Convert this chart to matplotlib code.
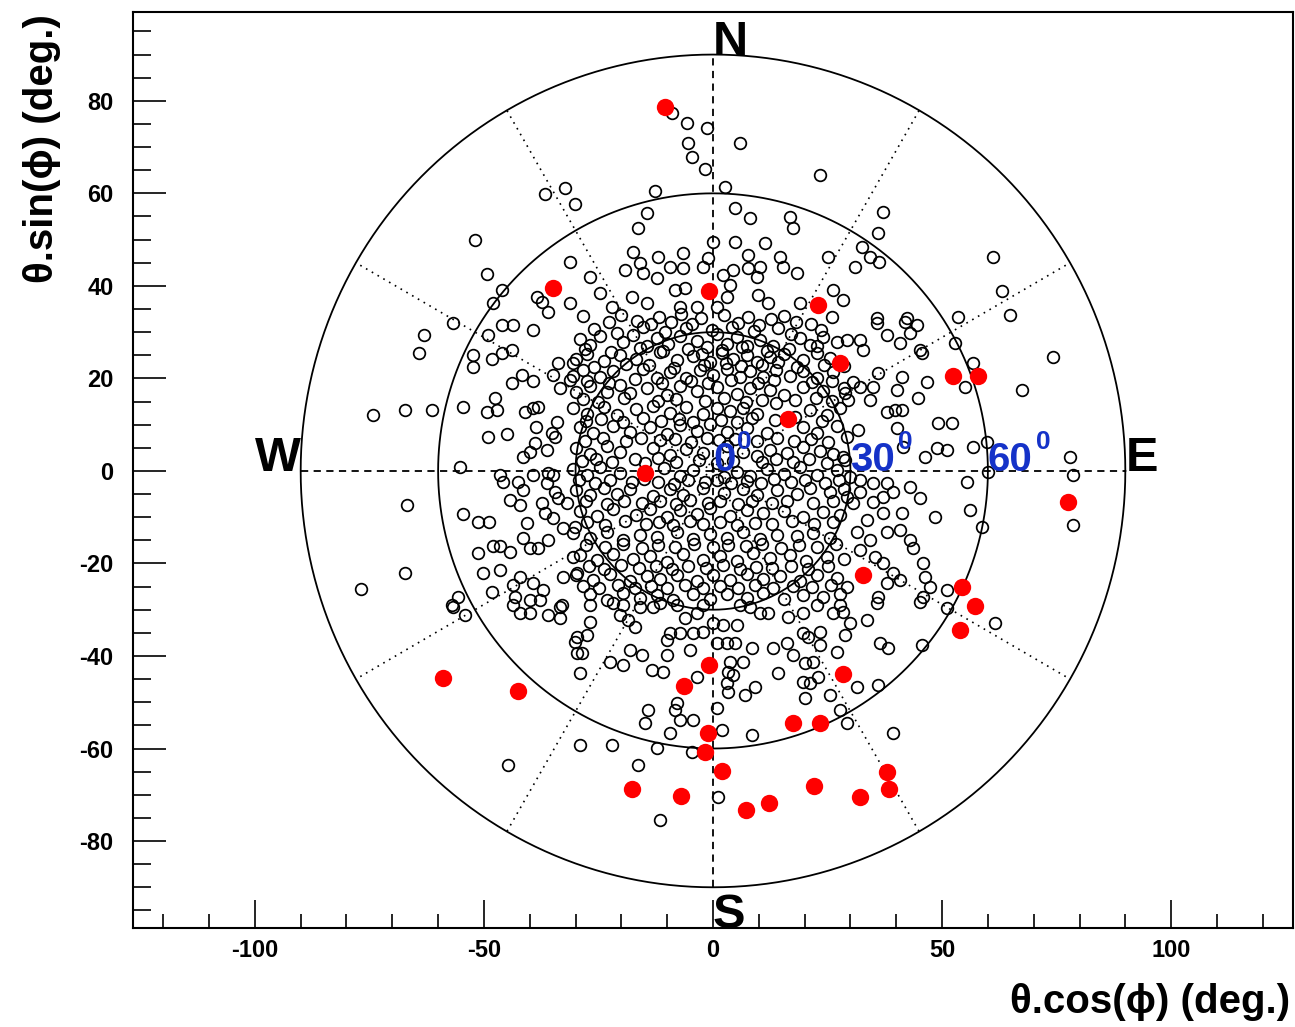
import matplotlib
matplotlib.use("Agg")
import matplotlib.pyplot as plt
import numpy as np

plt.rcParams['font.family'] = ['Liberation Sans', 'DejaVu Sans']

# ---------------- data (degrees) ----------------
ring_radii = [30, 60, 90]
spoke_angles = [30, 60, 120, 150, 210, 240, 300, 330]
x_major = [-100, -50, 0, 50, 100]
y_major = [-80, -60, -40, -20, 0, 20, 40, 60, 80]

# red (full) markers
red_x = [-10.5, -34.9, -0.9, 22.9, 27.7, 52.4, 57.9, 16.4, -14.8, 77.5, 32.8, 54.4, 57.2, 53.9,
         -59.0, -42.6, -0.9, -6.3, 28.4, -1.1, 17.5, 23.4, -1.7, 2.0, -17.7, -7.0, 7.2, 12.2,
         22.1, 32.1, 38.0, 38.4]
red_y = [78.7, 39.6, 38.9, 35.9, 23.4, 20.5, 20.5, 11.2, -0.4, -6.7, -22.5, -25.1, -29.2, -34.4,
         -44.8, -47.6, -41.9, -46.5, -43.9, -56.6, -54.5, -54.5, -60.8, -64.9, -68.8, -70.3, -73.3, -71.8,
         -68.1, -70.5, -65.1, -68.8]

# open markers, by region
open_north = [(-36.7, 59.9), (-32.3, 61.2), (-30.1, 57.7), (-52.0, 49.9), (-31.2, 45.2), (-49.3, 42.6),
              (-46.1, 39.1), (-48.0, 36.3), (-38.4, 37.6), (-37.3, 36.5), (-31.2, 36.3), (-36.0, 34.4),
              (-9.0, 77.4), (-5.7, 75.2), (-1.3, 74.2), (5.9, 70.9), (-5.5, 70.9), (-4.6, 67.9), (-1.7, 65.3),
              (23.4, 64.0), (-12.7, 60.5), (2.6, 61.4), (-14.4, 55.8), (-16.4, 52.5), (4.8, 56.9), (8.1, 54.7),
              (16.8, 54.9), (17.5, 52.5), (0.0, 49.5), (4.8, 49.5), (11.4, 49.3), (-17.5, 47.4), (-12.0, 46.3),
              (-6.6, 47.1), (-1.1, 46.1), (7.6, 46.7), (14.6, 46.3), (25.1, 46.3), (-19.2, 43.5), (-15.9, 45.0),
              (-15.3, 42.8), (-9.4, 44.1), (-6.6, 43.9), (-2.2, 44.1), (2.2, 42.4), (4.4, 43.5), (7.6, 43.9),
              (10.3, 44.1), (9.6, 41.9), (15.3, 44.1), (18.3, 42.8), (-26.9, 41.9), (-12.2, 41.7), (3.7, 40.2),
              (-24.7, 38.5), (-17.7, 37.6), (-14.4, 36.3), (-8.3, 39.1), (-6.1, 39.6), (3.1, 37.6), (9.8, 38.1),
              (12.0, 36.3), (19.0, 36.3), (26.2, 39.1), (28.4, 37.0), (-22.1, 35.5), (-7.2, 35.5), (-3.5, 35.5),
              (0.9, 35.5), (37.1, 56.0), (36.0, 51.5), (32.5, 48.4), (34.3, 46.3), (36.2, 45.2), (31.0, 44.1),
              (61.1, 46.3), (63.1, 38.9), (64.8, 33.7), (53.5, 33.3), (35.8, 33.1), (42.4, 33.1)]

open_west = [(-56.8, 32.0), (-63.1, 29.4), (-64.2, 25.5), (-74.2, 12.1), (-67.2, 13.2), (-61.4, 13.2),
             (-54.6, 13.8), (-55.2, 0.9), (-66.8, -7.4), (-54.6, -9.3), (-51.3, -11.0), (-48.9, -11.0),
             (-67.2, -22.1), (-76.9, -25.5), (-51.3, -17.7), (-48.0, -16.2), (-46.5, -16.2), (-50.2, -22.1),
             (-46.5, -21.4), (-55.7, -27.2), (-57.0, -29.0), (-49.1, 29.4), (-46.1, 31.6), (-43.7, 31.6),
             (-39.3, 30.5), (-52.4, 25.1), (-52.4, 22.5), (-48.3, 24.2), (-46.1, 25.5), (-43.9, 26.2),
             (-43.9, 19.0), (-41.7, 20.8), (-39.3, 19.5), (-34.9, 20.8), (-33.4, 17.9), (-33.8, 23.4),
             (-30.6, 23.4), (-31.2, 19.7), (-47.6, 15.8), (-49.3, 12.8), (-47.2, 13.2), (-41.0, 12.8),
             (-39.3, 13.6), (-38.2, 13.8), (-38.6, 9.5), (-49.1, 7.4), (-45.0, 8.0), (-41.5, 3.0), (-40.0, 4.1),
             (-38.9, 6.1), (-36.2, 4.5), (-35.2, 8.2), (-34.1, 10.6), (-34.5, 7.3), (-46.5, -0.9), (-45.9, -2.4),
             (-42.6, -2.4), (-41.5, -4.1), (-39.3, -0.9), (-36.0, -0.4), (-34.9, -0.9), (-36.2, -2.6),
             (-34.5, -4.5), (-44.3, -6.3), (-42.1, -7.4), (-37.3, -6.9), (-33.8, -5.8), (-31.9, -6.9),
             (-40.6, -11.2), (-36.7, -9.1), (-34.9, -10.2), (-32.8, -12.3), (-30.1, -12.1), (-41.5, -14.5),
             (-40.0, -16.6), (-38.2, -16.6), (-36.0, -14.9), (-44.3, -17.5), (-30.6, -18.6), (-42.1, -22.9),
             (-39.3, -24.2), (-43.7, -24.6), (-43.2, -27.2), (-40.0, -27.9), (-37.8, -27.9), (-37.1, -25.7),
             (-48.3, -26.2), (-32.8, -22.9), (-33.0, -29.0), (-29.7, -22.1)]

open_south = [(-56.8, -29.4), (-54.1, -31.1), (-44.8, -63.6), (-43.7, -29.0), (-42.1, -30.7), (-40.0, -30.7),
              (-36.0, -31.1), (-33.4, -29.4), (-33.4, -31.8), (-30.1, -37.0), (-29.7, -39.4), (-29.0, -59.2),
              (-26.9, -29.0), (-26.9, -32.6), (-20.3, -31.1), (-18.6, -32.2), (-17.0, -33.7), (-29.7, -35.9),
              (-27.5, -35.5), (-28.6, -39.4), (-22.5, -41.3), (-19.7, -41.9), (-29.0, -43.7), (-18.1, -38.7),
              (-15.5, -39.8), (-13.3, -43.0), (-10.9, -43.5), (-10.0, -39.8), (-10.0, -36.5), (-9.4, -35.0),
              (-7.2, -35.0), (-4.4, -35.0), (-2.2, -34.8), (-5.0, -38.7), (0.0, -32.9), (2.2, -33.3),
              (5.2, -33.3), (0.9, -37.2), (3.1, -37.2), (4.8, -37.2), (3.7, -41.3), (6.6, -41.3), (3.3, -43.5),
              (4.4, -44.1), (3.1, -45.8), (3.3, -47.8), (7.0, -48.4), (9.2, -46.7), (-3.5, -44.5), (-7.9, -50.2),
              (-8.3, -51.7), (0.9, -51.2), (-7.2, -53.8), (-4.4, -53.8), (-14.2, -51.7), (-14.8, -54.5),
              (-9.4, -56.6), (2.0, -56.0), (8.5, -57.1), (-12.2, -59.9), (-4.6, -60.8), (-22.1, -59.2),
              (-16.4, -63.6), (1.1, -70.5), (-11.6, -75.5), (8.5, -38.3), (13.1, -38.3), (16.2, -37.2),
              (14.2, -43.7), (17.5, -39.8), (19.7, -35.0), (20.7, -35.9), (21.8, -41.3), (23.4, -34.8),
              (23.4, -37.6), (20.1, -41.5), (22.9, -44.5), (19.7, -45.6), (21.2, -45.8), (20.1, -49.1),
              (25.5, -48.4), (27.7, -51.7), (29.3, -54.5), (27.1, -39.1), (16.4, -31.6), (19.7, -30.7),
              (22.7, -29.0), (26.2, -30.7), (27.7, -29.0), (8.1, -29.4), (10.3, -30.7), (12.0, -30.7),
              (5.9, -29.0), (-6.1, -31.8), (-3.5, -30.7), (-2.2, -29.0), (-7.9, -29.0), (-13.1, -29.4),
              (-11.6, -28.5), (-15.9, -29.4), (-19.7, -29.0), (-21.8, -28.5), (35.8, -28.5), (45.2, -28.3),
              (51.1, -29.6), (28.4, -30.5), (29.9, -32.9), (33.6, -32.2), (28.8, -35.5), (36.5, -37.2),
              (38.2, -38.3), (45.6, -37.6), (61.6, -32.9), (31.4, -46.7), (36.0, -46.3), (39.3, -56.6)]

open_east = [(74.2, 24.6), (67.5, 17.5), (56.8, 23.4), (55.0, 18.2), (52.8, 27.7), (77.9, 3.0), (78.6, -0.9),
             (78.6, -11.7), (59.8, 6.3), (56.8, 5.2), (55.5, -2.4), (56.1, -8.4), (60.0, -0.2), (58.7, -12.1),
             (49.1, 10.4), (52.2, 10.4), (48.9, 5.0), (51.1, 4.5), (46.3, 3.0), (48.5, -9.9), (45.2, 26.2),
             (46.7, 19.2), (44.8, 15.8), (41.3, 20.3), (40.2, 17.5), (41.3, 13.2), (39.7, 13.2), (38.0, 12.8),
             (35.8, 32.0), (38.0, 29.4), (40.8, 27.7), (41.9, 32.2), (44.5, 31.6), (43.0, 29.8), (32.1, 28.3),
             (32.8, 26.2), (29.3, 28.3), (45.6, 25.5), (36.0, 21.2), (34.9, 18.2), (34.3, 15.4), (32.1, 18.2),
             (30.6, 19.2), (28.8, 16.9), (29.5, 15.4), (31.7, 8.9), (40.2, 9.3), (41.5, 5.2), (29.3, 7.4),
             (28.4, 3.0), (29.9, -1.3), (32.1, -1.9), (34.9, -2.6), (38.0, -2.6), (39.3, -4.5), (37.1, -5.6),
             (34.9, -6.7), (32.1, -4.5), (30.6, -6.9), (29.3, -5.6), (43.0, -3.5), (45.2, -5.8), (41.3, -9.1),
             (37.1, -9.1), (33.6, -10.6), (31.4, -13.2), (38.0, -13.2), (40.8, -12.8), (43.0, -14.9),
             (43.7, -16.6), (34.3, -14.9), (32.1, -17.1), (35.4, -18.6), (37.1, -19.9), (39.3, -22.1),
             (40.8, -23.6), (38.0, -24.2), (36.0, -27.2), (29.3, -25.1), (45.9, -19.9), (46.3, -22.9),
             (47.4, -25.1), (45.9, -27.2), (51.1, -25.7)]

open_center = [(-28.3, 33.4), (-22.6, 32.1), (-20.1, 33.8), (-16.5, 32.5), (-13.6, 31.7), (-11.7, 33.3),
               (-9.2, 32.2), (-7.0, 33.9), (-4.5, 31.8), (-2.6, 33.0), (2.5, 33.6), (5.4, 32.0), (7.6, 33.3),
               (10.1, 31.5), (12.6, 32.8), (15.6, 33.5), (18.1, 32.1), (21.4, 31.8), (26.0, 33.2),
               (-29.0, 28.6), (-26.9, 27.2), (-24.7, 29.1), (-19.6, 27.9), (-17.4, 29.4), (-14.5, 27.0),
               (-12.3, 28.8), (-9.8, 27.5), (-7.2, 29.2), (-3.6, 28.1), (-1.4, 26.8), (0.8, 29.5), (3.0, 27.4),
               (5.2, 28.9), (7.4, 27.1), (10.3, 28.4), (13.2, 26.9), (19.0, 28.7), (21.2, 27.3), (24.1, 29.0),
               (27.0, 27.8), (-29.8, 24.1), (-27.6, 25.3), (-23.9, 23.8), (-20.3, 25.0), (-16.7, 24.2),
               (-11.6, 25.6), (-7.9, 23.9), (-4.3, 24.8), (-0.7, 23.6), (1.9, 25.4), (4.4, 24.3), (7.4, 25.1),
               (9.5, 23.5), (12.4, 24.6), (15.4, 25.2), (19.7, 24.0), (22.6, 25.5), (25.5, 24.4),
               (-30.5, 20.6), (-28.3, 21.9), (-24.7, 20.3), (-21.8, 21.6), (-15.2, 22.1), (-12.3, 20.1),
               (-9.4, 21.4), (-5.8, 20.0), (-2.8, 21.8), (0.1, 20.7), (3.0, 22.0), (5.9, 20.2), (8.0, 21.5),
               (11.0, 20.4), (13.8, 21.9), (16.8, 20.6), (19.7, 21.7), (22.6, 20.1), (26.3, 21.3),
               (-29.8, 17.1), (-26.9, 18.3), (-23.2, 17.0), (-20.3, 18.6), (-18.1, 16.8), (-14.5, 17.9),
               (-10.1, 16.5), (-7.2, 18.4), (-3.6, 17.2), (0.8, 18.1), (5.2, 16.7), (8.1, 18.0), (12.4, 17.4),
               (15.4, 16.4), (19.7, 18.2), (24.1, 17.3), (28.5, 18.0), (-30.5, 13.6), (-27.6, 12.4),
               (-23.9, 13.9), (-21.0, 12.1), (-16.7, 13.3), (-13.0, 14.0), (-9.4, 12.6), (-5.8, 13.8),
               (-2.1, 12.2), (0.8, 13.5), (3.7, 12.9), (6.6, 13.7), (9.5, 12.3), (21.2, 13.1), (24.8, 12.0),
               (27.7, 13.5), (-29.0, 9.4), (-26.1, 8.2), (-21.8, 9.8), (-18.1, 8.5), (-13.8, 9.6), (-10.1, 8.0),
               (-7.2, 9.9), (-3.6, 8.7), (-0.7, 10.1), (3.0, 8.4), (7.4, 9.2), (11.7, 8.1), (19.7, 9.5),
               (22.6, 8.3), (27.0, 9.7), (-29.8, 4.9), (-26.9, 3.7), (-23.2, 5.3), (-20.3, 4.1), (-13.0, 5.0),
               (-9.4, 3.5), (-5.8, 4.8), (-2.1, 3.9), (3.0, 5.4), (6.6, 4.0), (9.5, 3.3), (12.4, 4.6),
               (16.1, 3.8), (19.7, 5.1), (23.4, 4.2), (26.3, 3.6), (-30.5, 0.4), (-27.6, -0.8), (-24.7, 0.9),
               (-20.3, -0.5), (-10.8, 0.6), (-7.2, -1.1), (-4.3, 0.2), (2.3, -1.3), (5.2, -0.2), (8.1, -1.0),
               (11.7, 0.5), (15.4, -0.6), (19.0, 0.8), (22.6, -0.9), (27.0, 0.3), (-29.8, -4.1), (-26.9, -5.2),
               (-23.9, -3.7), (-21.0, -4.9), (-18.1, -3.9), (-13.0, -5.4), (-9.4, -4.0), (-6.5, -5.1),
               (-2.1, -3.6), (2.3, -4.8), (6.6, -3.8), (9.5, -5.3), (13.9, -4.2), (18.3, -5.0), (21.2, -3.7),
               (25.5, -4.6), (28.5, -3.9), (-29.0, -8.6), (-25.4, -9.7), (-21.8, -8.3), (-16.7, -9.5),
               (-13.8, -8.2), (-10.1, -9.9), (-7.2, -8.5), (-3.6, -9.4), (-0.7, -8.1), (3.7, -9.8), (7.4, -8.4),
               (11.0, -9.2), (15.4, -8.7), (19.7, -10.0), (24.1, -8.8), (27.7, -9.6), (-30.5, -13.5),
               (-26.9, -14.6), (-23.2, -13.2), (-19.6, -14.9), (-15.9, -13.8), (-12.3, -14.3), (-7.9, -13.1),
               (-4.3, -14.7), (-0.7, -13.6), (3.0, -14.4), (6.6, -13.3), (10.3, -14.8), (13.9, -13.9),
               (18.3, -14.1), (21.9, -13.4), (25.5, -14.5), (-29.0, -18.1), (-25.4, -19.3), (-21.8, -17.9),
               (-17.4, -19.0), (-13.8, -18.4), (-10.1, -19.6), (-6.5, -18.0), (-2.1, -19.2), (1.5, -18.3),
               (5.2, -19.5), (8.8, -17.8), (12.4, -18.9), (16.8, -18.2), (20.4, -19.4), (24.8, -18.6),
               (28.5, -19.1), (-29.8, -22.6), (-26.1, -23.5), (-22.5, -22.2), (-18.1, -23.8), (-14.5, -22.7),
               (-11.6, -23.3), (-7.9, -22.4), (-3.6, -23.9), (0.1, -22.5), (3.7, -23.6), (7.4, -22.3),
               (11.0, -23.4), (14.6, -22.8), (19.0, -23.7), (22.6, -22.4), (27.0, -23.1), (-26.9, -26.6),
               (-23.2, -27.8), (-19.6, -26.4), (-15.9, -27.5), (-12.3, -26.8), (-8.7, -27.9), (-4.3, -26.5),
               (-0.7, -27.6), (3.0, -26.7), (7.4, -27.4), (11.0, -26.3), (15.4, -27.7), (19.7, -26.9),
               (24.1, -27.3), (27.7, -26.6)]

# second, interleaved layer of the dense core (overlapping markers)
open_core = [(-26.0, 30.6), (-21.0, 29.9), (-15.3, 31.2), (-10.4, 30.1), (-5.9, 31.0), (-0.2, 30.4),
             (4.1, 31.1), (9.0, 30.2), (14.2, 30.8), (17.0, 29.6), (23.5, 30.5),
             (-28.0, 26.3), (-22.2, 25.7), (-16.0, 26.6), (-11.0, 26.0), (-5.4, 26.4), (-2.4, 25.2),
             (2.0, 26.1), (6.3, 26.7), (11.8, 25.9), (16.5, 26.4), (22.8, 26.9),
             (-26.0, 22.4), (-18.9, 23.1), (-13.9, 22.9), (-8.6, 22.3), (-2.0, 23.0), (2.9, 23.4),
             (6.1, 22.6), (10.8, 23.0), (14.1, 23.6), (18.3, 22.5), (24.2, 22.9), (28.7, 22.6),
             (-27.4, 19.5), (-22.6, 19.0), (-17.0, 19.8), (-11.2, 18.9), (-4.9, 19.4), (-1.0, 19.1),
             (4.0, 19.6), (9.9, 19.0), (13.3, 19.7), (21.6, 19.2), (26.0, 19.5),
             (-28.4, 15.5), (-25.0, 15.0), (-19.4, 15.7), (-12.1, 15.2), (-8.0, 15.6), (-1.8, 15.1),
             (2.5, 15.8), (7.1, 15.0), (10.6, 15.4), (13.8, 14.6), (18.0, 15.3), (22.4, 15.7), (26.0, 15.1),
             (-27.8, 10.8), (-24.4, 11.3), (-19.6, 10.6), (-15.2, 11.5), (-11.4, 10.7), (-7.5, 11.2),
             (-4.4, 10.5), (1.8, 11.1), (5.2, 10.6), (8.6, 11.4), (13.6, 10.9), (17.8, 11.6), (23.8, 10.7),
             (-28.0, 6.5), (-24.0, 7.1), (-19.0, 6.4), (-15.7, 7.2), (-11.6, 6.6), (-8.2, 7.0), (-4.9, 6.3),
             (-1.4, 7.2), (1.4, 6.6), (4.9, 7.0), (9.6, 6.4), (14.0, 7.1), (17.7, 6.5), (21.3, 6.9), (25.0, 6.2),
             (-28.6, 2.1), (-25.6, 2.6), (-22.0, 1.9), (-17.1, 2.5), (-14.9, 1.8), (-12.0, 2.7), (-8.0, 2.0),
             (-3.0, 2.4), (0.8, 1.7), (4.3, 2.2), (10.6, 1.9), (13.8, 2.6), (17.4, 2.0), (21.0, 2.5),
             (24.8, 1.8), (28.8, 2.3),
             (-29.2, -2.0), (-25.8, -2.6), (-22.4, -1.9), (-17.6, -2.5), (-15.0, -1.7), (-11.9, -2.4),
             (-8.6, -2.8), (-5.5, -1.9), (-1.8, -2.5), (0.9, -2.0), (4.0, -2.7), (7.5, -2.1), (10.5, -2.6),
             (13.3, -1.8), (17.0, -2.4), (20.1, -2.0), (24.4, -2.6), (27.5, -1.9),
             (-27.8, -6.6), (-23.2, -7.1), (-19.5, -6.4), (-15.6, -7.0), (-11.6, -6.5), (-8.1, -7.2),
             (-5.1, -6.3), (-1.2, -7.0), (1.5, -6.6), (5.4, -7.1), (8.6, -6.5), (12.8, -7.0), (16.2, -6.4),
             (21.8, -7.0), (26.1, -6.6),
             (-27.4, -11.0), (-23.5, -11.6), (-19.1, -10.9), (-14.6, -11.5), (-11.8, -11.1), (-8.7, -11.7),
             (-5.0, -10.9), (-2.1, -11.4), (1.5, -11.0), (5.2, -11.6), (9.1, -11.2), (12.8, -11.5),
             (17.3, -10.9), (22.0, -11.4), (26.2, -11.1),
             (-27.7, -16.0), (-23.6, -16.5), (-19.6, -15.9), (-15.6, -16.6), (-12.0, -16.1), (-8.3, -16.4),
             (-4.1, -15.8), (-0.1, -16.5), (3.2, -16.0), (7.2, -16.3), (10.6, -15.9), (14.8, -16.6),
             (18.7, -16.0), (22.6, -16.4), (26.8, -15.9),
             (-27.0, -20.6), (-23.8, -21.1), (-20.0, -20.4), (-16.2, -21.0), (-12.5, -20.5), (-8.9, -21.2),
             (-5.4, -20.6), (-1.6, -21.0), (2.1, -20.4), (5.8, -21.1), (9.4, -20.7), (12.9, -21.0),
             (17.1, -20.5), (20.8, -21.1), (25.0, -20.6),
             (-28.3, -24.8), (-24.8, -25.3), (-20.8, -24.7), (-17.0, -25.4), (-13.6, -24.9), (-10.1, -25.2),
             (-6.2, -24.6), (-2.2, -25.3), (1.6, -24.8), (5.4, -25.2), (9.2, -24.7), (13.2, -25.3),
             (17.4, -24.9), (21.6, -25.1), (25.7, -24.6)]

compass_labels = ['N', 'S', 'W', 'E']
compass_pos = [(0, 90), (0, -98.8), (-100, 0), (90, 0)]
angle_labels = ['0', '30', '60']
angle_pos = [0, 30, 60]

# ---------------- figure ----------------
W, H = 1295, 1027
fig = plt.figure(figsize=(W / 100, H / 100), dpi=100)
ax = fig.add_axes([133 / W, 99 / H, 1160 / W, 916 / H])
ax.set_xlim(-126.6, 126.6)
ax.set_ylim(-98.8, 99.2)

t = np.linspace(0, 2 * np.pi, 721)
for r in ring_radii:
    ax.plot(r * np.cos(t), r * np.sin(t), color='black', lw=1.3, zorder=2)
for a in spoke_angles:
    ar = np.deg2rad(a)
    ax.plot([0, 90 * np.cos(ar)], [0, 90 * np.sin(ar)], color='black', lw=1.2,
            linestyle=(0, (1, 3)), zorder=2)
ax.plot([-90, 90], [0, 0], color='black', lw=1.3, linestyle=(0, (4, 3)), zorder=2)
ax.plot([0, 0], [-90, 90], color='black', lw=1.3, linestyle=(0, (4, 3)), zorder=2)

open_all = open_north + open_west + open_south + open_east + open_center + open_core
ox = [p[0] for p in open_all]
oy = [p[1] for p in open_all]
ax.plot(ox, oy, 'o', mfc='none', mec='black', ms=8.4, mew=1.25, zorder=3)
ax.plot(red_x, red_y, 'o', color='#ff0000', ms=12.5, mew=0, zorder=4)

for lab, (px, py) in zip(compass_labels, compass_pos):
    ax.text(px, py, lab, fontsize=35, fontweight='bold', ha='left', va='baseline',
            color='black', zorder=5, clip_on=False)

blue = '#1532c8'
for lab, px in zip(angle_labels, angle_pos):
    ax.text(px, 0, lab, fontsize=29, fontweight='bold', ha='left', va='baseline', color=blue, zorder=5)
    ax.annotate('0', xy=(px, 0), xytext=(17 * len(lab) + 0.5, 15.5), textcoords='offset points',
                fontsize=19, fontweight='bold', ha='left', va='baseline', color=blue, zorder=5)

# axes styling
ax.set_xticks(x_major)
ax.set_xticks([v for v in range(-120, 121, 10) if v % 50 != 0], minor=True)
ax.set_yticks(y_major)
ax.set_yticks([v for v in range(-95, 96, 5) if v % 20 != 0], minor=True)
ax.set_xticklabels([str(v) for v in x_major])
ax.set_yticklabels([str(v) for v in y_major])
ax.tick_params(axis='x', which='major', direction='in', length=20, width=1.2, pad=8,
               labelsize=17)
ax.tick_params(axis='x', which='minor', direction='in', length=10, width=1.2)
ax.tick_params(axis='y', which='major', direction='in', length=24, width=1.2, pad=14,
               labelsize=17)
ax.tick_params(axis='y', which='minor', direction='in', length=13, width=1.2)
for lab in ax.get_xticklabels() + ax.get_yticklabels():
    lab.set_fontweight('bold')
for s in ax.spines.values():
    s.set_linewidth(1.5)

fig.text(1290 / W, 1 - 1002 / H, 'θ.cos(ϕ) (deg.)', fontsize=29, fontweight='bold',
         ha='right', va='center')
fig.text(42 / W, 1 - 14 / H, 'θ.sin(ϕ) (deg.)', fontsize=29, fontweight='bold',
         ha='center', va='top', rotation=90)

fig.savefig('out.png', dpi=100)
